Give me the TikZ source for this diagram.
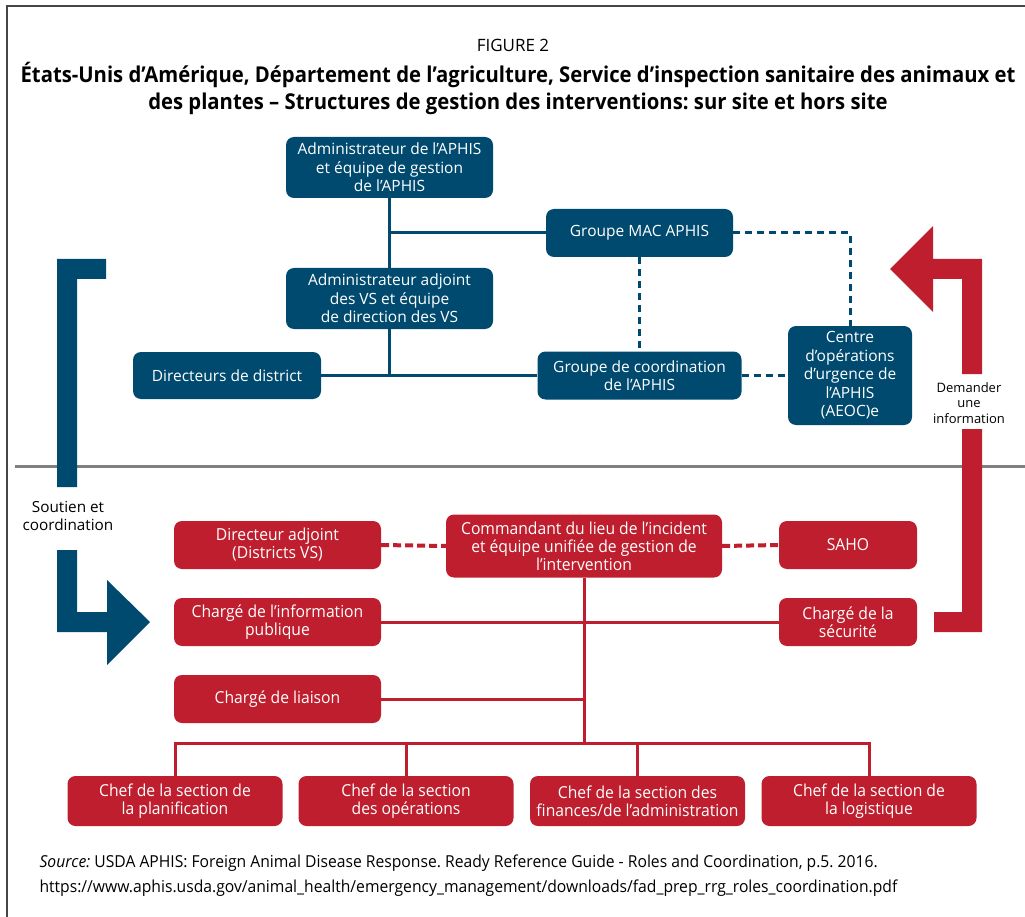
\documentclass[tikz,border=0pt]{standalone}
\usepackage{fontspec}
\setmainfont{Open Sans}
\newfontfamily\condfont[FakeStretch=0.95]{Open Sans}
\newfontfamily\titlefont[FakeStretch=0.93]{Open Sans}
\frenchspacing
\usetikzlibrary{positioning,calc}
\definecolor{aphisblue}{RGB}{0,74,112}
\definecolor{aphisred}{RGB}{190,30,45}
\definecolor{rulegray}{RGB}{128,128,128}
\definecolor{framegray}{RGB}{70,70,70}
\tikzset{
  bbox/.style={rounded corners=8pt, fill=aphisblue, text=white, align=center,
               inner sep=2pt, font=\fontsize{15.5}{18.5}\selectfont},
  rbox/.style={rounded corners=8pt, fill=aphisred, text=white, align=center,
               inner sep=2pt, minimum width=207pt, minimum height=48pt,
               font=\condfont\fontsize{16.5}{18}\selectfont},
  sbox/.style={rbox, minimum width=215pt, minimum height=50pt},
  bline/.style={draw=aphisblue, line width=3pt},
  bdash/.style={bline, dash pattern=on 7pt off 5pt},
  rline/.style={draw=aphisred, line width=3pt},
  rdash/.style={draw=aphisred, line width=4pt, dash pattern=on 8pt off 4pt},
  note/.style={align=center, font=\fontsize{15.3}{18}\selectfont},
}

\begin{document}
\begin{tikzpicture}[x=1pt,y=-1pt]
  \useasboundingbox (0,0) rectangle (1025,917);
  % frame
  \draw[framegray, line width=2pt] (7,917) -- (7,6.5) -- (1025,6.5);

  % title
  \node[font=\fontsize{17}{20}\selectfont] (fig) at (513,45) {FIGURE 2};
  \node[align=center, font=\titlefont\bfseries\fontsize{21.8}{27}\selectfont] (title) at (518,88)
    {États-Unis d’Amérique, Département de l’agriculture, Service d’inspection sanitaire des animaux et\\
     des plantes – Structures de gestion des interventions: sur site et hors site};

  % off-site structure
  \node[bbox, minimum width=207pt, minimum height=61pt] (admin) at (389.5,167.5)
    {Administrateur de l’APHIS\\et équipe de gestion\\de l’APHIS};
  \node[bbox, minimum width=187pt, minimum height=48pt] (mac) at (639.5,233) {Groupe MAC APHIS};
  \node[bbox, minimum width=207pt, minimum height=61pt] (adjoint) at (389.5,298.5)
    {Administrateur adjoint\\des VS et équipe\\de direction des VS};
  \node[bbox, minimum width=188pt, minimum height=47pt] (district) at (227,375.5) {Directeurs de district};
  \node[bbox, minimum width=204pt, minimum height=48pt] (coord) at (639.5,375.5)
    {Groupe de coordination\\de l’APHIS};
  \node[bbox, minimum width=124pt, minimum height=99pt] (aeoc) at (850,375.5)
    {Centre\\d’opérations\\d’urgence de\\l’APHIS\\(AEOC)e};

  \draw[bline] (admin) -- (adjoint);
  \draw[bline] (admin.south |- mac.west) -- (mac.west);
  \draw[bline] (adjoint.south) -- (adjoint.south |- district.east);
  \draw[bline] (district.east) -- (coord.west);
  \draw[bdash] (mac.east) -| (aeoc.north);
  \draw[bdash] (mac.south) -- (coord.north);
  \draw[bdash] (coord.east) -- (aeoc.west);

  % separation on site / off site
  \draw[rulegray, line width=3pt] (15,466.5) -- (1025,466.5);

  % side arrows
  \fill[aphisblue] (57,259) -- (106,259) -- (106,279) -- (77,279) -- (77,487) -- (57,487) -- cycle;
  \fill[aphisblue] (57,550) -- (77,550) -- (77,612) -- (107,612) -- (107,580) -- (150,622)
    -- (107,665) -- (107,632) -- (57,632) -- cycle;
  \node[note] (soutien) at (68,516) {Soutien et\\coordination};
  \fill[aphisred] (982,259) -- (982,374) -- (962,374) -- (962,279) -- (933,279) -- (933,312)
    -- (890,269) -- (933,226) -- (933,259) -- cycle;
  \fill[aphisred] (962,429) -- (982,429) -- (982,632) -- (934,632) -- (934,612) -- (962,612) -- cycle;
  \node[note, font=\fontsize{13}{15.5}\selectfont] (demande) at (969,403) {Demander\\une\\information};

  % on-site structure
  \node[rbox] (diradj) at (277.5,545) {Directeur adjoint\\(Districts VS)};
  \node[rbox, minimum width=276pt, minimum height=63pt] (cmd) at (584,546)
    {Commandant du lieu de l’incident\\et équipe unifiée de gestion de\\l’intervention};
  \node[rbox, minimum width=138pt] (saho) at (848,545) {SAHO};
  \node[rbox] (info) at (277.5,622) {Chargé de l’information\\publique};
  \node[rbox, minimum width=138pt] (secu) at (848,622) {Chargé de la\\sécurité};
  \node[rbox] (liaison) at (277.5,699) {Chargé de liaison};
  \node[sbox] (planif) at (175,801) {Chef de la section de\\la planification};
  \node[sbox] (ops) at (406,801) {Chef de la section\\des opérations};
  \node[sbox] (fin) at (637.5,801) {Chef de la section des\\finances/de l’administration};
  \node[sbox] (logi) at (869,801) {Chef de la section de\\la logistique};
  \coordinate (split) at (584,743);

  \draw[rdash] (diradj.east) -- (cmd.west);
  \draw[rdash] (cmd.east) -- (saho.west);
  \draw[rline] (info.east) -- (secu.west);
  \draw[rline] (cmd.south) -- (split);
  \draw[rline] (liaison.east) -- (liaison.east -| split);
  \draw[rline] (planif.north) |- (split) -| (logi.north);
  \draw[rline] (ops.north) -- (ops.north |- split);
  \draw[rline] (fin.north) -- (fin.north |- split);

  % source
  \node[anchor=north west, align=left, font=\condfont\fontsize{16.5}{25}\selectfont] (source) at (36,851)
    {\textit{Source:} USDA APHIS: Foreign Animal Disease Response. Ready Reference Guide - Roles and Coordination, p.5. 2016.\\
     https://www.aphis.usda.gov/animal\_health/emergency\_management/downloads/fad\_prep\_rrg\_roles\_coordination.pdf};
\end{tikzpicture}
\end{document}
